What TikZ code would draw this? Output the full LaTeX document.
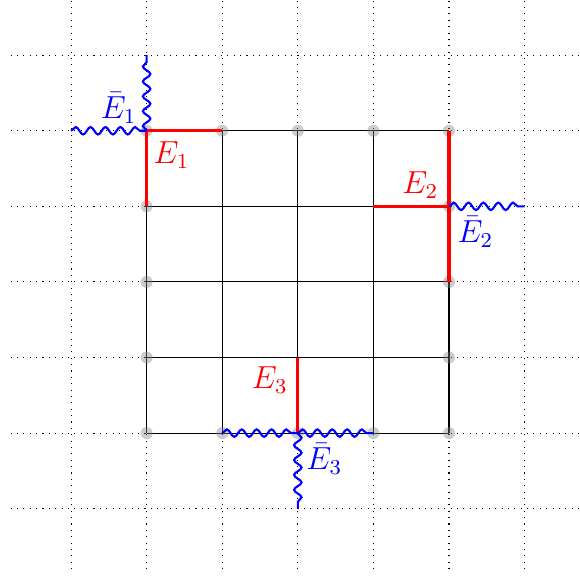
\documentclass[tikz,border=0pt]{standalone}
\usetikzlibrary{decorations.pathmorphing}
\begin{document}
\begin{tikzpicture}[
  redge/.style={red, line width=1.2pt},
  wavy/.style={blue, line width=0.8pt, decorate, decoration={snake, amplitude=1.4pt, segment length=5.6pt}},
  vdot/.style={fill=gray, opacity=0.4},
  rlab/.style={red, font=\large},
  blab/.style={blue, font=\large}
]
\useasboundingbox (-1.94,-1.93) rectangle (5.72,5.73);
\draw[dotted] (-1.8,-1.8) grid (5.8,5.8);
\draw[black, line width=0.4pt] (0,0) grid (4,4);
% vertices
\foreach \i in {0,...,4}{\foreach \j in {0,...,4}{\coordinate (v\i\j) at (\i,\j);}}
\coordinate (wl) at (-1,4);
\coordinate (wt) at (0,5);
\coordinate (wr) at (5,3);
\coordinate (wb) at (2,-1);
% boundary dots
\foreach \p in {v04,v14,v24,v34,v44,v03,v02,v01,v00,v43,v42,v41,v40,v10,v20,v30}{
  \fill[vdot] (\p) circle (0.08);
}
% red edges
\draw[redge] (v03) -- (v04) -- (v14);
\draw[redge] (v33) -- (v43);
\draw[redge] (v44) -- (v42);
\draw[redge] (v21) -- (v20);
% blue wavy edges
\draw[wavy] (wl) -- (v04);
\draw[wavy] (v04) -- (wt);
\draw[wavy] (v43) -- (wr);
\draw[wavy] (v10) -- (v20);
\draw[wavy] (v20) -- (v30);
\draw[wavy] (v20) -- (wb);
% labels
\node[rlab] (e1) at (0.33,3.68) {$E_1$};
\node[blab] (b1) at (-0.37,4.30) {$\bar{E}_1$};
\node[rlab] (e2) at (3.62,3.28) {$E_2$};
\node[blab] (b2) at (4.35,2.66) {$\bar{E}_2$};
\node[rlab] (e3) at (1.63,0.70) {$E_3$};
\node[blab] (b3) at (2.35,-0.34) {$\bar{E}_3$};
\end{tikzpicture}
\end{document}
